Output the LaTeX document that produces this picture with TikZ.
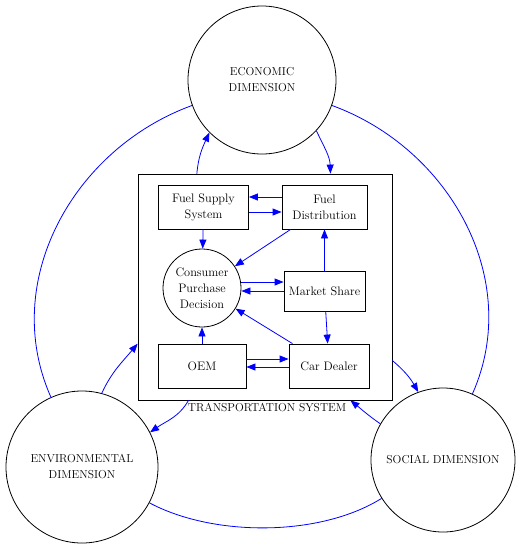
\documentclass[tikz,border=0pt]{standalone}
\usetikzlibrary{arrows.meta}
\begin{document}
\begin{tikzpicture}[x=1pt,y=-1pt,line width=.8pt,font=\fontsize{11.5}{16}\selectfont,
  dimension/.style={draw,circle,minimum size=148pt,inner sep=0pt,align=center},
  unit/.style={draw,minimum width=90pt,minimum height=44pt,inner sep=2pt,align=center,
    font=\fontsize{12.3}{16}\selectfont},
  flow/.style={blue,-{Triangle[length=9pt,width=7pt]}},
  ring/.style={blue}]
\useasboundingbox (0,0) rectangle (520,550);
% the three dimensions
\node[dimension] (econ) at (262,80) {ECONOMIC\\DIMENSION};
\node[dimension,minimum size=152pt] (env) at (82,467) {ENVIRONMENTAL\\DIMENSION};
\node[dimension,minimum size=144pt] (soc) at (443,460) {SOCIAL DIMENSION};
% transportation system
\node[draw,minimum width=254pt,minimum height=226pt] (ts) at (265,287) {};
\node (tslabel) at (267,408) {TRANSPORTATION SYSTEM};
\node[unit] (fs) at (203.5,207) {Fuel Supply\\System};
\node[unit,minimum width=85pt] (fd) at (324.5,207) {Fuel\\Distribution};
\node[unit,circle,minimum size=78pt,inner sep=0pt] (cpd) at (202,288) {Consumer\\Purchase\\Decision};
\node[unit,minimum width=81pt,minimum height=40pt] (ms) at (324.5,291) {Market Share};
\node[unit,minimum width=88pt] (oem) at (202,366) {OEM};
\node[unit,minimum width=80pt] (cd) at (329,366) {Car Dealer};
% outer ring
\draw[ring] (econ) to[out=200,in=114] (env);
\draw[ring] (econ) to[out=-20,in=66] (soc);
\draw[ring] (env) to[out=-28,in=212,looseness=.8] (soc);
% flows
\draw[flow] (ts.121) to[out=85,in=245] (econ.225);
\draw[flow] (econ.-43) to[out=-65,in=92] (ts.60);
\draw[flow] ([yshift=10pt]fd.west) -- ([yshift=10pt]fs.east);
\draw[flow] ([yshift=-5pt]fs.east) -- ([yshift=-5pt]fd.west);
\draw[flow] (fs) -- (cpd);
\draw[flow] (fd) -- (cpd);
\draw[flow] ([yshift=6pt]cpd.east) -- ([yshift=9pt]ms.west);
\draw[flow] (ms.west) -- ([yshift=-3pt]cpd.east);
\draw[flow] (ms) -- (fd);
\draw[flow] (ms) -- (cd);
\draw[flow] (cd) -- (cpd);
\draw[flow] (oem) -- (cpd);
\draw[flow] ([yshift=7pt]oem.east) -- ([yshift=7pt]cd.west);
\draw[flow] ([yshift=-1pt]cd.west) -- ([yshift=-1pt]oem.east);
\draw[flow] (ts.-30) to[out=-40,in=120] (soc.110);
\draw[flow] (soc.150) to[out=145,in=-39] (ts.-53);
\draw[flow] (env.75) to[out=65,in=230] (ts.204);
\draw[flow] (ts.236) to[out=-120,in=35] (env.27);
\end{tikzpicture}
\end{document}
